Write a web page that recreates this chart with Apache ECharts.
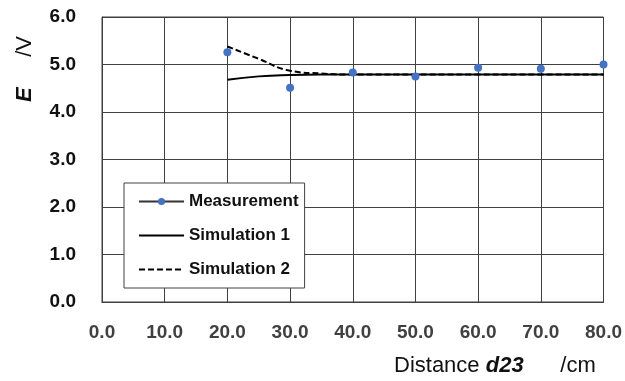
<!DOCTYPE html>
<html>
<head>
<meta charset="utf-8">
<script src="https://cdn.jsdelivr.net/npm/echarts@6/dist/echarts.min.js"></script>
<style>html,body{margin:0;padding:0;background:#fff;}#c{width:625px;height:381px;}</style>
</head>
<body>
<div id="c"></div>
<script>
// Data
var measX = [20, 30, 40, 50, 60, 70, 80];
var measurement = [5.26, 4.51, 4.83, 4.75, 4.93, 4.91, 5.00];
var sim1X = [20, 25, 30, 35, 40, 50, 60, 70, 80];
var simulation1 = [4.68, 4.75, 4.78, 4.79, 4.79, 4.79, 4.79, 4.79, 4.79];
var sim2X = [20, 25, 30, 35, 40, 50, 60, 70, 80];
var simulation2 = [5.38, 5.12, 4.87, 4.81, 4.79, 4.79, 4.79, 4.79, 4.79];
var seriesNames = ['Measurement', 'Simulation 1', 'Simulation 2'];

function pairs(xs, ys) { return xs.map(function (x, i) { return [x, ys[i]]; }); }

var chart = echarts.init(document.getElementById('c'), null, {renderer: 'canvas'});
var gridColor = '#404040';
chart.setOption({
  animation: false,
  backgroundColor: '#ffffff',
  grid: {left: 102, right: 20, top: 17, bottom: 79, show: true, borderColor: gridColor, borderWidth: 1},
  xAxis: {
    type: 'value', min: 0, max: 80, interval: 10,
    axisLine: {show: true, lineStyle: {color: gridColor, width: 1}},
    axisTick: {show: false},
    splitLine: {show: true, lineStyle: {color: gridColor, width: 1}},
    axisLabel: {
      formatter: function (v) { return v.toFixed(1); },
      fontFamily: 'Liberation Sans', fontWeight: 'bold', fontSize: 19, color: '#404040', margin: 21
    }
  },
  yAxis: {
    type: 'value', min: 0, max: 6, interval: 1,
    axisLine: {show: true, lineStyle: {color: gridColor, width: 1}},
    axisTick: {show: false},
    splitLine: {show: true, lineStyle: {color: gridColor, width: 1}},
    axisLabel: {
      formatter: function (v) { return v.toFixed(1); },
      fontFamily: 'Liberation Sans', fontWeight: 'bold', fontSize: 19, color: '#111', margin: 26
    }
  },
  legend: {
    orient: 'vertical', left: 124, top: 183,
    itemWidth: 45, itemHeight: 9, itemGap: 17,
    padding: [10, 6, 10, 14],
    backgroundColor: '#fff', borderColor: '#404040', borderWidth: 1, borderRadius: 0,
    textStyle: {fontFamily: 'Liberation Sans', fontWeight: 'bold', fontSize: 17, color: '#111'},
    data: [
      {name: seriesNames[0], lineStyle: {color: '#333', width: 2, opacity: 1}},
      {name: seriesNames[1], itemStyle: {opacity: 0}},
      {name: seriesNames[2], itemStyle: {opacity: 0}}
    ]
  },
  series: [
    {
      name: seriesNames[0], type: 'line', data: pairs(measX, measurement),
      symbol: 'circle', symbolSize: 8, z: 5,
      itemStyle: {color: '#4472C4'},
      lineStyle: {width: 0, opacity: 0}
    },
    {
      name: seriesNames[1], type: 'line', data: pairs(sim1X, simulation1),
      showSymbol: false, symbol: 'none', smooth: true,
      lineStyle: {color: '#000', width: 2}, itemStyle: {color: '#000'}
    },
    {
      name: seriesNames[2], type: 'line', data: pairs(sim2X, simulation2),
      showSymbol: false, symbol: 'none', smooth: true,
      lineStyle: {color: '#000', width: 2, type: [6, 3]}, itemStyle: {color: '#000'}
    }
  ],
  graphic: [
    {
      type: 'text', x: 394, y: 366,
      style: {
        text: '{n|Distance }{b|d23}{n|      /cm}',
        verticalAlign: 'middle', align: 'left',
        rich: {
          n: {fontFamily: 'Liberation Sans', fontSize: 22, fill: '#111'},
          b: {fontFamily: 'Liberation Sans', fontSize: 22, fontWeight: 'bold', fontStyle: 'italic', fill: '#111'}
        }
      }
    },
    {
      type: 'text', x: 25, y: 69, rotation: Math.PI / 2,
      style: {
        text: '{b|E}{n|     /V}',
        verticalAlign: 'middle', align: 'center',
        rich: {
          n: {fontFamily: 'Liberation Sans', fontSize: 22, fill: '#111'},
          b: {fontFamily: 'Liberation Sans', fontSize: 22, fontWeight: 'bold', fontStyle: 'italic', fill: '#111'}
        }
      }
    }
  ]
});
</script>
</body>
</html>
